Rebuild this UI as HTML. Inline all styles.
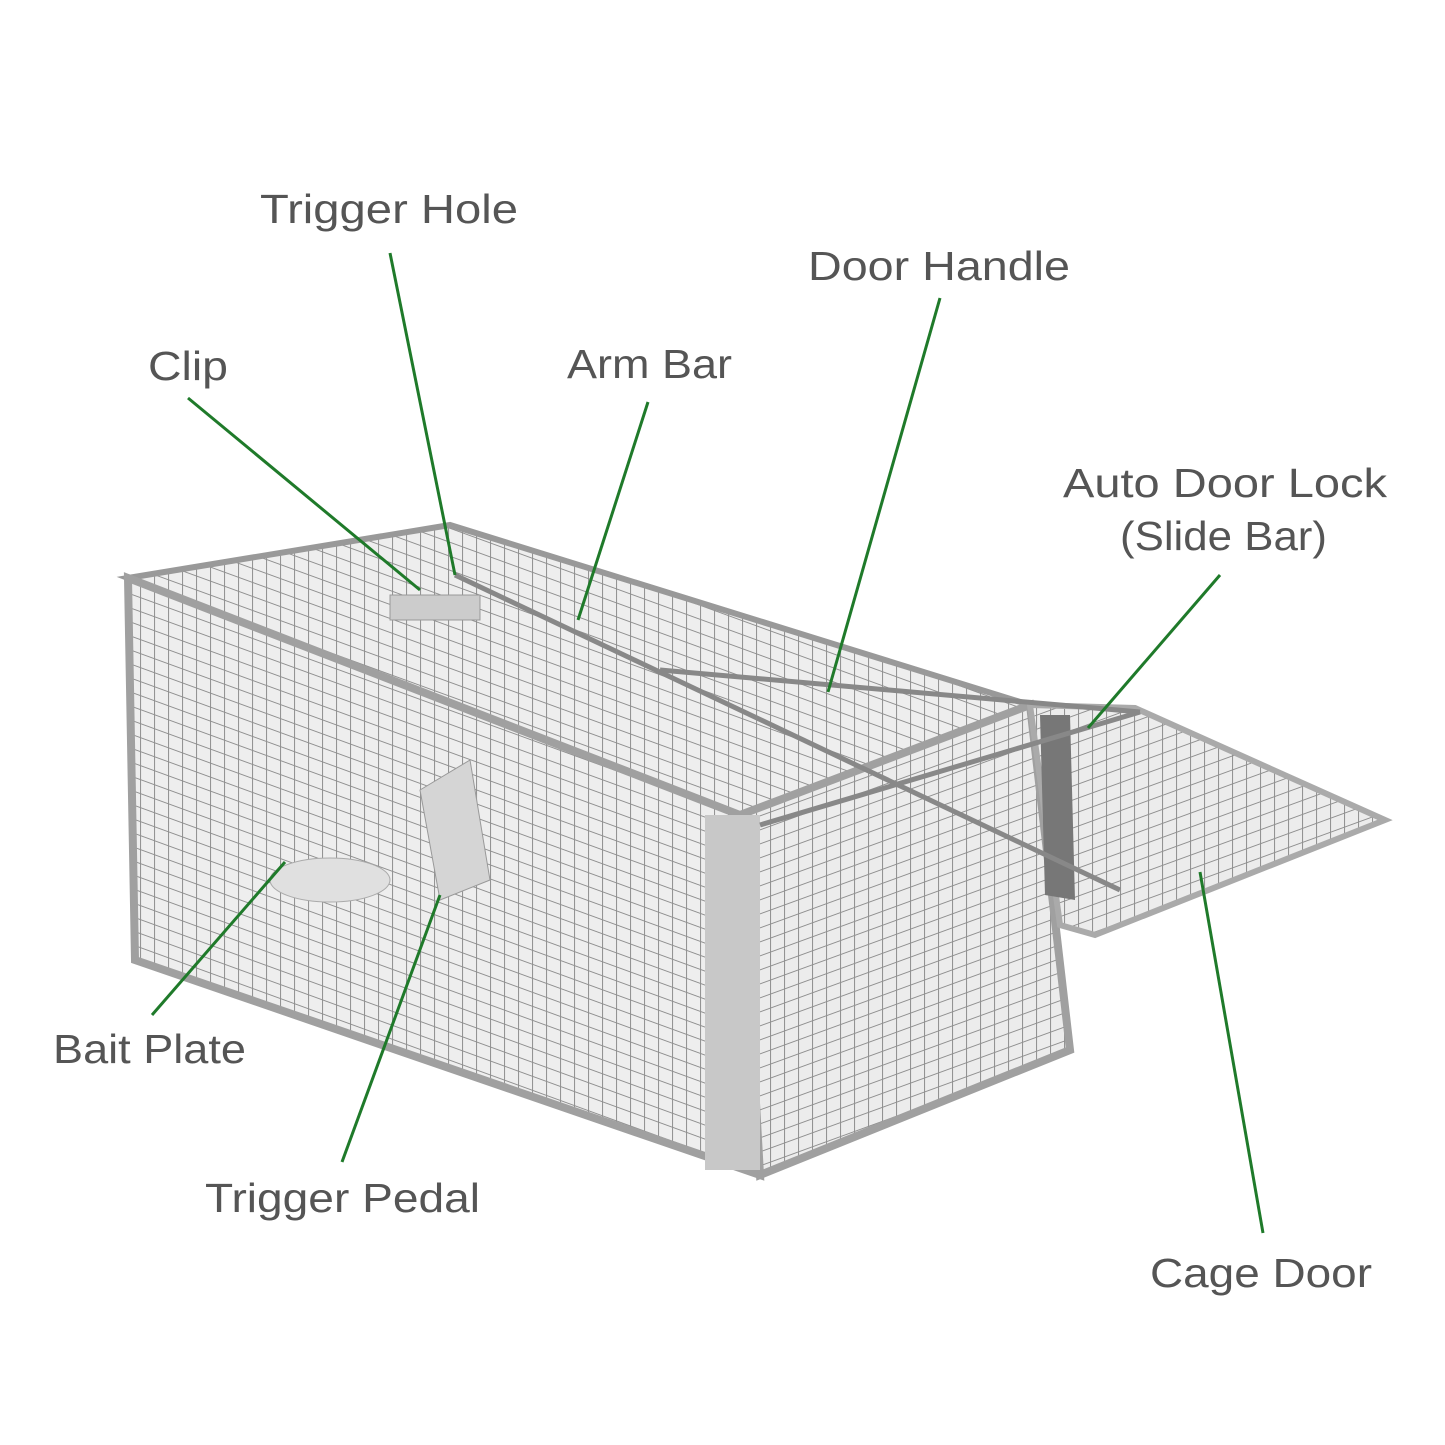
<!DOCTYPE html>
<html><head><meta charset="utf-8"><style>
html,body{margin:0;padding:0;background:#fff;}
svg{display:block}
text{font-family:"Liberation Sans",sans-serif;font-size:41px;fill:#555;}
</style></head><body>
<svg width="1445" height="1445" viewBox="0 0 1445 1445">
<defs>
<pattern id="mesh2" width="14" height="14" patternUnits="userSpaceOnUse" patternTransform="skewY(20)">
<rect width="14" height="14" fill="#eeeeee"/>
<path d="M0 0H14M0 0V14" stroke="#8f8f8f" stroke-width="2"/>
</pattern>
<pattern id="mesh3" width="14" height="14" patternUnits="userSpaceOnUse" patternTransform="skewY(-20)">
<rect width="14" height="14" fill="#ececec"/>
<path d="M0 0H14M0 0V14" stroke="#8f8f8f" stroke-width="2"/>
</pattern>
</defs>
<polygon points="128,578 450,525 1030,705 740,815" fill="url(#mesh2)" stroke="#999" stroke-width="6"/>
<polygon points="128,578 740,815 760,1175 135,960" fill="url(#mesh2)" stroke="#a0a0a0" stroke-width="8"/>
<polygon points="740,815 1030,705 1070,1050 760,1175" fill="url(#mesh3)" stroke="#a0a0a0" stroke-width="8"/>
<polygon points="1030,705 1135,708 1385,820 1095,935 1060,925" fill="url(#mesh3)" stroke="#aaa" stroke-width="6"/>
<rect x="705" y="815" width="55" height="355" fill="#c8c8c8"/>
<polygon points="1040,715 1070,715 1075,900 1045,895" fill="#777"/>
<line x1="455" y1="575" x2="1120" y2="890" stroke="#888" stroke-width="5"/>
<line x1="660" y1="670" x2="1140" y2="712" stroke="#888" stroke-width="5"/>
<line x1="760" y1="825" x2="1140" y2="712" stroke="#888" stroke-width="5"/>
<rect x="390" y="595" width="90" height="25" fill="#ccc" stroke="#999"/>
<polygon points="420,790 470,760 490,880 440,900" fill="#d5d5d5" stroke="#999"/>
<ellipse cx="330" cy="880" rx="60" ry="22" fill="#e0e0e0" stroke="#aaa"/>
<text x="260" y="223" textLength="258" lengthAdjust="spacingAndGlyphs">Trigger Hole</text>
<text x="808" y="280" textLength="262" lengthAdjust="spacingAndGlyphs">Door Handle</text>
<text x="148" y="380" textLength="80" lengthAdjust="spacingAndGlyphs">Clip</text>
<text x="567" y="378" textLength="165" lengthAdjust="spacingAndGlyphs">Arm Bar</text>
<text x="1063" y="497" textLength="324" lengthAdjust="spacingAndGlyphs">Auto Door Lock</text>
<text x="1120" y="550" textLength="207" lengthAdjust="spacingAndGlyphs">(Slide Bar)</text>
<text x="53" y="1063" textLength="193" lengthAdjust="spacingAndGlyphs">Bait Plate</text>
<text x="205" y="1212" textLength="275" lengthAdjust="spacingAndGlyphs">Trigger Pedal</text>
<text x="1150" y="1287" textLength="222" lengthAdjust="spacingAndGlyphs">Cage Door</text>
<g stroke="#1f7a2a" stroke-width="3">
<line x1="390" y1="253" x2="455" y2="575"/>
<line x1="188" y1="398" x2="420" y2="590"/>
<line x1="648" y1="402" x2="578" y2="620"/>
<line x1="940" y1="298" x2="828" y2="692"/>
<line x1="1220" y1="575" x2="1088" y2="728"/>
<line x1="152" y1="1015" x2="285" y2="862"/>
<line x1="342" y1="1162" x2="440" y2="895"/>
<line x1="1263" y1="1233" x2="1200" y2="872"/>
</g>
</svg>
</body></html>
